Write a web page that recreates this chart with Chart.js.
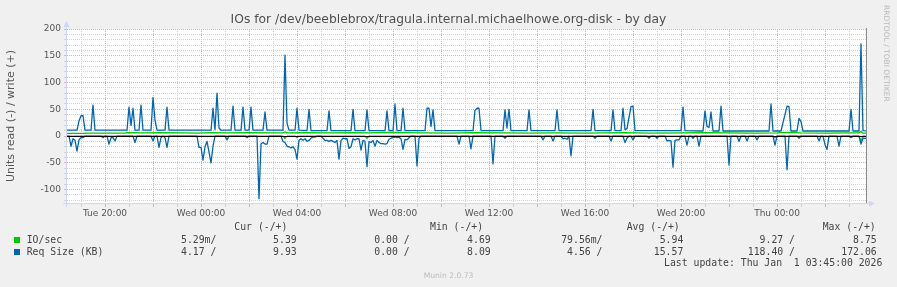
<!DOCTYPE html>
<html>
<head>
<meta charset="utf-8">
<script src="https://cdn.jsdelivr.net/npm/chart.js@4.4.1/dist/chart.umd.min.js"></script>
<style>
body { margin: 0; background: #f0f0f0; }
#wrap { position: relative; width: 897px; height: 287px; background: #f0f0f0; overflow: hidden; font-family: "DejaVu Sans", sans-serif; }
#wrap canvas { position: absolute; left: 0; top: 0; }
.t { position: absolute; white-space: pre; }
.title { left: 0; width: 897px; top: 12px; text-align: center; font-size: 12.3px; line-height: 14px; color: #505050; }
.mono { font-family: "DejaVu Sans Mono", monospace; font-size: 9.8px; line-height: 12px; color: #444; }
.sq { position: absolute; width: 6px; height: 6px; }
.wm { font-size: 7.6px; line-height: 9px; color: #bcbcbc; left: 0; width: 897px; text-align: center; top: 271px; }
.side { font-size: 7.5px; line-height: 9px; color: #b8b8b8; writing-mode: vertical-rl; left: 882px; top: 5px; }
</style>
</head>
<body>
<div id="wrap">
  <canvas id="c" width="897" height="287"></canvas>
  <div class="t title">IOs for /dev/beeblebrox/tragula.internal.michaelhowe.org-disk - by day</div>
  <div class="t side">RRDTOOL / TOBI OETIKER</div>
  <div class="t wm">Munin 2.0.73</div>
  <div id="legend"></div>
</div>
<script>
// time is in minutes since Tue 00:00, one sample every 5 minutes
const T0 = 1105, T1 = 3105;

// IO/sec, write (+)
const ioWrite = [[1105,5],[1150,5],[1155,5.5],[1250,5.5],[1255,6.5],[1300,6],[1340,6.5],[1400,6],[1430,5.5],
  [1470,6.5],[1500,6],[1560,6.5],[1620,6],[1645,6],[1650,8],[1655,6],[1700,6.5],[1760,6],[1820,6.5],[1860,6],
  [1900,7],[1950,6.5],[2000,6],[2060,5.5],[2120,6.5],[2200,6],[2260,5.5],[2320,6],[2400,5.5],[2500,6.5],
  [2560,5.5],[2640,6],[2700,6.5],[2760,6],[2820,5.5],[2880,6],[2905,7],[2940,6],[3000,5.5],[3060,6],
  [3085,6],[3090,8.7],[3095,5.5],[3105,5.4]];

// IO/sec, read (-)
const ioRead = [[1105,0],[1645,0],[1650,4],[1655,0],[1675,0],[1680,3],[1685,0],[1850,0],[1855,4],[1860,0],
  [2870,0],[2875,3],[2880,0],[3085,0],[3090,9.3],[3095,0],[3105,0]];

// Req Size (KB), write (+)
const reqWrite = [[1105,11],[1130,11],[1135,28],[1140,38],[1145,38],[1150,11],
  [1165,11],[1170,58],[1175,11],
  [1255,11],[1260,54],[1265,20],[1270,52],[1275,11],
  [1285,11],[1290,58],[1295,11],
  [1315,11],[1320,72],[1325,30],[1330,11],
  [1350,11],[1355,54],[1360,11],
  [1465,11],[1470,52],[1475,12],[1480,80],[1485,15],[1490,11],
  [1515,11],[1520,56],[1525,11],
  [1540,11],[1545,54],[1550,11],
  [1560,11],[1565,54],[1570,11],
  [1595,11],[1600,45],[1605,11],
  [1645,11],[1650,151],[1655,24],[1660,11],
  [1675,11],[1680,52],[1685,11],
  [1705,10],[1710,50],[1715,10],
  [1755,10],[1760,47],[1765,10],
  [1815,10],[1820,50],[1825,10],
  [1850,10],[1855,49],[1860,10],
  [1900,10],[1905,47],[1910,10],
  [1920,10],[1925,60],[1930,10],
  [1940,10],[1945,52],[1950,10],
  [2000,10],[2005,52],[2010,52],[2015,18],[2020,49],[2025,10],
  [2120,10],[2125,48],[2130,52],[2135,52],[2140,10],
  [2195,10],[2200,49],[2205,15],[2210,50],[2215,10],
  [2255,10],[2260,49],[2265,10],
  [2325,10],[2330,49],[2335,10],
  [2415,10],[2420,50],[2425,10],
  [2465,10],[2470,49],[2475,10],
  [2490,10],[2495,52],[2500,12],[2505,14],[2510,35],[2515,55],[2520,56],[2525,10],
  [2640,10],[2645,54],[2650,10],
  [2695,9.5],[2700,47],[2705,18],[2710,16],[2715,45],[2720,9.5],
  [2735,9.5],[2740,56],[2745,9.5],
  [2860,9.5],[2865,60],[2870,9.5],
  [2890,9.5],[2895,25],[2900,40],[2905,56],[2910,55],[2915,9.5],
  [2930,9.5],[2935,33],[2940,27],[2945,9.5],
  [3060,9.5],[3065,50],[3070,9.5],
  [3085,9.5],[3090,172],[3095,10],[3105,9.9]];

// Req Size (KB), read (-)
const reqRead = [[1105,0],[1110,0],[1115,19],[1120,5],[1125,8],[1130,28],[1135,7],[1140,3],[1145,3],[1150,0],
  [1190,0],[1195,3],[1200,0],
  [1205,0],[1210,15],[1215,3],[1220,3],[1225,9],[1230,0],
  [1270,0],[1275,12],[1280,0],
  [1315,0],[1320,9],[1325,0],
  [1330,0],[1335,21],[1340,3],[1345,0],[1350,3],[1355,21],[1360,0],
  [1430,0],[1435,21],[1440,21],[1445,45],[1450,20],[1455,10],[1460,30],[1465,50],[1470,19],[1475,0],
  [1500,0],[1505,7],[1510,0],
  [1550,0],[1555,3],[1560,0],
  [1580,0],[1585,117],[1590,15],[1595,12],[1600,15],[1605,15],[1610,0],
  [1640,0],[1645,10],[1650,12],[1655,19],[1660,20],[1665,22],[1670,20],[1675,25],[1680,43],[1685,8],
  [1690,5],[1695,8],[1700,5],[1705,10],[1710,8],[1715,4],[1720,2],[1725,2],[1730,0],
  [1740,0],[1745,4],[1750,8],[1755,8],[1760,10],[1765,8],[1770,10],[1775,12],[1780,8],[1785,43],[1790,8],
  [1795,4],[1800,5],[1805,5],[1810,23],[1815,20],[1820,5],[1825,7],[1830,5],[1835,5],[1840,26],[1845,8],
  [1850,10],[1855,57],[1860,10],[1865,12],[1870,8],[1875,19],[1880,8],[1885,12],[1890,14],[1895,14],
  [1900,15],[1905,14],[1910,6],[1915,4],[1920,3],[1925,2],[1930,3],[1935,2],[1940,5],[1945,25],[1950,6],
  [1955,7],[1960,3],[1965,0],[1975,0],[1980,56],[1985,4],[1990,0],
  [2080,0],[2085,15],[2090,0],
  [2110,0],[2115,24],[2120,0],
  [2165,0],[2170,52],[2175,0],
  [2195,0],[2200,4],[2205,0],
  [2290,0],[2295,7],[2300,0],
  [2315,0],[2320,9],[2325,0],
  [2340,0],[2345,5],[2350,4],[2355,6],[2360,0],[2365,37],[2370,0],
  [2420,0],[2425,4],[2430,0],
  [2460,0],[2465,9],[2470,0],
  [2495,0],[2500,12],[2505,4],[2510,0],
  [2515,0],[2520,7],[2525,0],
  [2555,0],[2560,4],[2565,0],
  [2575,0],[2580,4],[2585,0],
  [2600,0],[2605,9],[2610,8],[2615,9],[2620,58],[2625,8],[2630,7],[2635,7],[2640,0],
  [2650,0],[2655,17],[2660,0],
  [2665,0],[2670,4],[2675,0],
  [2680,0],[2685,19],[2690,0],
  [2755,0],[2760,54],[2765,0],
  [2780,0],[2785,10],[2790,0],
  [2800,0],[2805,9],[2810,0],
  [2825,0],[2830,7],[2835,0],
  [2870,0],[2875,17],[2880,0],
  [2900,0],[2905,63],[2910,0],
  [2930,0],[2935,4],[2940,0],
  [2980,0],[2985,9],[2990,0],
  [2995,0],[3000,16],[3005,25],[3010,0],
  [3030,0],[3035,19],[3040,0],
  [3060,0],[3065,3],[3070,0],
  [3085,0],[3090,15],[3095,4],[3105,4.2]];

const xTickMinutes = [1200, 1440, 1680, 1920, 2160, 2400, 2640, 2880];
const xTickLabels = ['Tue 20:00', 'Wed 00:00', 'Wed 04:00', 'Wed 08:00', 'Wed 12:00', 'Wed 16:00', 'Wed 20:00', 'Thu 00:00'];
const yTickLabels = [-100, -50, 0, 50, 100, 150, 200];

const legendNames = ['IO/sec', 'Req Size (KB)'];
const legendColors = ['#00cc00', '#0066b3'];
const legendHeads = ['Cur (-/+)', 'Min (-/+)', 'Avg (-/+)', 'Max (-/+)'];
const curVals = [['5.29m/', '5.39'], ['4.17 /', '9.93']];
const minVals = [['0.00 /', '4.69'], ['0.00 /', '8.09']];
const avgVals = [['79.56m/', '5.94'], ['4.56 /', '15.57']];
const maxVals = [['9.27 /', '8.75'], ['118.40 /', '172.06']];
const lastUpdate = 'Last update: Thu Jan  1 03:45:00 2026';

// legend (monospace rows under the graph)
const leg = document.getElementById('legend');
function put(cls, text, style) {
    const d = document.createElement('div');
    d.className = 't ' + cls;
    d.textContent = text;
    Object.assign(d.style, style);
    leg.appendChild(d);
}
const headLeft = [234.3, 430, 626.7, 822.7];
const readRight = [216.4, 409.7, 602.5, 795];
const writeRight = [296.7, 490.7, 683.3, 876.7];
const rowTop = [233.6, 245.6];
legendHeads.forEach((h, i) => put('mono', h, { left: headLeft[i] + 'px', top: '221px' }));
[curVals, minVals, avgVals, maxVals].forEach((col, i) => {
    col.forEach((pair, r) => {
        put('mono', pair[0], { right: (897 - readRight[i]) + 'px', top: rowTop[r] + 'px' });
        put('mono', pair[1], { right: (897 - writeRight[i]) + 'px', top: rowTop[r] + 'px' });
    });
});
legendNames.forEach((n, r) => {
    put('mono', n, { left: '26.7px', top: rowTop[r] + 'px' });
    const sq = document.createElement('div');
    sq.className = 'sq';
    sq.style.left = '14px';
    sq.style.top = (237 + r * 12) + 'px';
    sq.style.background = legendColors[r];
    leg.appendChild(sq);
});
put('mono', lastUpdate, { right: (897 - 882.3) + 'px', top: '256.6px' });

const MAJOR = '#e8aaaa', MINOR = '#d2d2d2', AXIS = '#cfd6f8', FONT = '#555';

const hourGrid = [];
for (let m = 1140; m <= 3060; m += 60) hourGrid.push(m);
const tenGrid = [];
for (let v = -120; v <= 200; v += 10) tenGrid.push(v);

const toPts = (arr, sign) => arr.map(p => ({ x: p[0], y: sign * p[1] }));

const muninDeco = {
    id: 'muninDeco',
    beforeDraw(chart) {
        const { ctx, chartArea: a } = chart;
        ctx.save();
        ctx.fillStyle = '#ffffff';
        ctx.fillRect(a.left, a.top, a.right - a.left, a.bottom - a.top);
        ctx.restore();
    },
    afterDatasetsDraw(chart) {
        const { ctx, chartArea: a, scales } = chart;
        const y0 = Math.round(scales.y.getPixelForValue(0)) + 0.5;
        ctx.save();
        ctx.lineWidth = 1;
        ctx.strokeStyle = '#000';
        ctx.beginPath();
        ctx.moveTo(a.left, y0);
        ctx.lineTo(a.right, y0);
        ctx.stroke();
        // right edge
        ctx.strokeStyle = '#8c8c8c';
        ctx.beginPath();
        ctx.moveTo(a.right - 0.5, a.top - 1);
        ctx.lineTo(a.right - 0.5, a.bottom);
        ctx.stroke();
        // axes with arrows
        ctx.strokeStyle = AXIS;
        ctx.fillStyle = AXIS;
        ctx.beginPath();
        ctx.moveTo(a.left - 0.5, a.bottom + 4);
        ctx.lineTo(a.left - 0.5, a.top - 6);
        ctx.moveTo(a.left - 4, a.bottom + 0.5);
        ctx.lineTo(a.right + 4, a.bottom + 0.5);
        ctx.stroke();
        ctx.beginPath();
        ctx.moveTo(a.left - 0.5, a.top - 8);
        ctx.lineTo(a.left - 3.5, a.top - 2);
        ctx.lineTo(a.left + 2.5, a.top - 2);
        ctx.closePath();
        ctx.fill();
        ctx.beginPath();
        ctx.moveTo(a.right + 8, a.bottom + 0.5);
        ctx.lineTo(a.right + 2, a.bottom - 2.5);
        ctx.lineTo(a.right + 2, a.bottom + 3.5);
        ctx.closePath();
        ctx.fill();
        ctx.restore();
    }
};

const lineStyle = { pointRadius: 0, borderWidth: 1.3, tension: 0, borderJoinStyle: 'round', fill: false };

new Chart(document.getElementById('c'), {
    type: 'line',
    data: {
        datasets: [
            { label: 'Req Size (KB) read', data: toPts(reqRead, -1), borderColor: '#0066b3', ...lineStyle },
            { label: 'Req Size (KB) write', data: toPts(reqWrite, 1), borderColor: '#0066b3', ...lineStyle },
            { label: 'IO/sec read', data: toPts(ioRead, -1), borderColor: '#00cc00', ...lineStyle },
            { label: 'IO/sec write', data: toPts(ioWrite, 1), borderColor: '#00cc00', ...lineStyle }
        ]
    },
    options: {
        responsive: false,
        animation: false,
        devicePixelRatio: 1,
        layout: { padding: { left: 0, right: 30, top: 29, bottom: 64 } },
        plugins: { legend: { display: false }, tooltip: { enabled: false }, title: { display: false } },
        scales: {
            x: {
                type: 'linear',
                min: T0,
                max: T1,
                afterBuildTicks: s => { s.ticks = hourGrid.map(v => ({ value: v })); },
                afterFit: s => { s.height = 20; },
                ticks: {
                    autoSkip: false,
                    maxRotation: 0,
                    padding: 1,
                    color: FONT,
                    font: { family: 'DejaVu Sans', size: 9 },
                    callback: v => {
                        const i = xTickMinutes.indexOf(v);
                        return i >= 0 ? xTickLabels[i] : '';
                    }
                },
                grid: {
                    color: c => (c.tick && c.tick.value % 120 === 0) ? MAJOR : MINOR,
                    lineWidth: 1,
                    tickLength: 4
                },
                border: { display: false, dash: [1, 1] }
            },
            y: {
                type: 'linear',
                min: -125,
                max: 200,
                afterBuildTicks: s => { s.ticks = tenGrid.map(v => ({ value: v })); },
                afterFit: s => { s.width = 67; },
                ticks: {
                    autoSkip: false,
                    padding: 3,
                    color: FONT,
                    font: { family: 'DejaVu Sans', size: 9 },
                    callback: v => yTickLabels.includes(v) ? String(v) : ''
                },
                grid: {
                    color: c => (c.tick && c.tick.value % 50 === 0) ? MAJOR : MINOR,
                    lineWidth: 1,
                    tickLength: 3
                },
                border: { display: false, dash: [1, 1] },
                title: {
                    display: true,
                    text: 'Units read (-) / write (+)',
                    color: FONT,
                    font: { family: 'DejaVu Sans', size: 11 },
                    padding: { top: 5, bottom: 0 }
                }
            }
        }
    },
    plugins: [muninDeco]
});
</script>
</body>
</html>
